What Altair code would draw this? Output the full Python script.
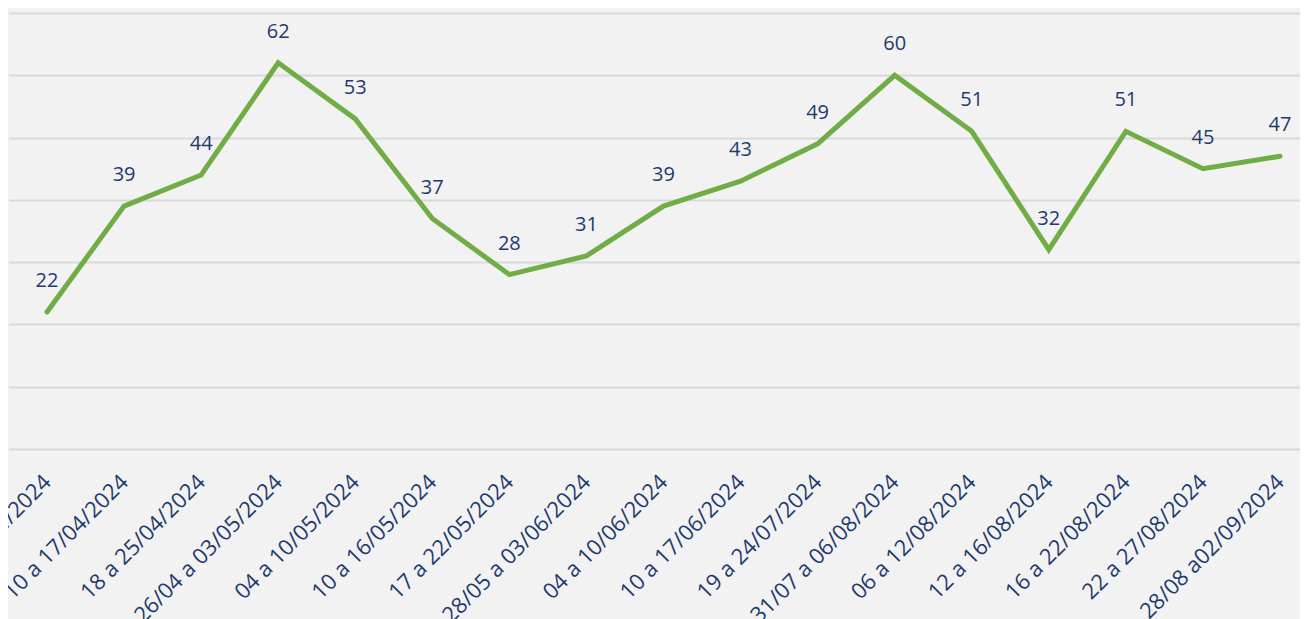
import altair as alt
import pandas as pd

periods = [
    "02 a 09/04/2024", "10 a 17/04/2024", "18 a 25/04/2024", "26/04 a 03/05/2024",
    "04 a 10/05/2024", "10 a 16/05/2024", "17 a 22/05/2024", "28/05 a 03/06/2024",
    "04 a 10/06/2024", "10 a 17/06/2024", "19 a 24/07/2024", "31/07 a 06/08/2024",
    "06 a 12/08/2024", "12 a 16/08/2024", "16 a 22/08/2024", "22 a 27/08/2024",
    "28/08 a02/09/2024",
]
values = [22, 39, 44, 62, 53, 37, 28, 31, 39, 43, 49, 60, 51, 32, 51, 45, 47]

df = pd.DataFrame({"periodo": periods, "valor": values})

NAVY = "#1F3A6E"
GREEN = "#70AD47"

x_enc = alt.X(
    "periodo:N",
    sort=periods,
    scale=alt.Scale(type="point", padding=0.3765, align=0.655),
    axis=alt.Axis(
        title=None,
        domain=False,
        ticks=False,
        grid=False,
        labelAngle=-45,
        labelAlign="right",
        labelBaseline="top",
        labelFont="Open Sans",
        labelFontSize=22,
        labelColor=NAVY,
        labelPadding=22,
        labelOffset=-7,
        labelOverlap=False,
        labelBound=False,
        labelLimit=400,
    ),
)
y_enc = alt.Y(
    "valor:Q",
    scale=alt.Scale(domain=[0, 70], nice=False, zero=True),
    axis=alt.Axis(
        title=None,
        domain=False,
        ticks=False,
        labels=False,
        grid=True,
        gridColor="#D9D9D9",
        gridWidth=2,
        values=[0, 10, 20, 30, 40, 50, 60, 70],
    ),
)

base = alt.Chart(df).encode(x=x_enc, y=y_enc)

line = base.mark_line(color=GREEN, strokeWidth=5, strokeCap="round", strokeJoin="miter")
labels = base.mark_text(
    dy=-31, fontSize=20, font="Open Sans", color=NAVY, baseline="middle", align="center"
).encode(text="valor:Q")

chart = (
    alt.layer(line, labels)
    .properties(
        width=1291,
        height=436,
        background="#F2F2F2",
        padding={"left": 1, "top": 5, "right": 0, "bottom": 170},
        autosize=alt.AutoSizeParams(type="none"),
    )
    .configure_view(stroke=None)
)

chart.save("out.html", embed_options={"renderer": "svg", "actions": False})
